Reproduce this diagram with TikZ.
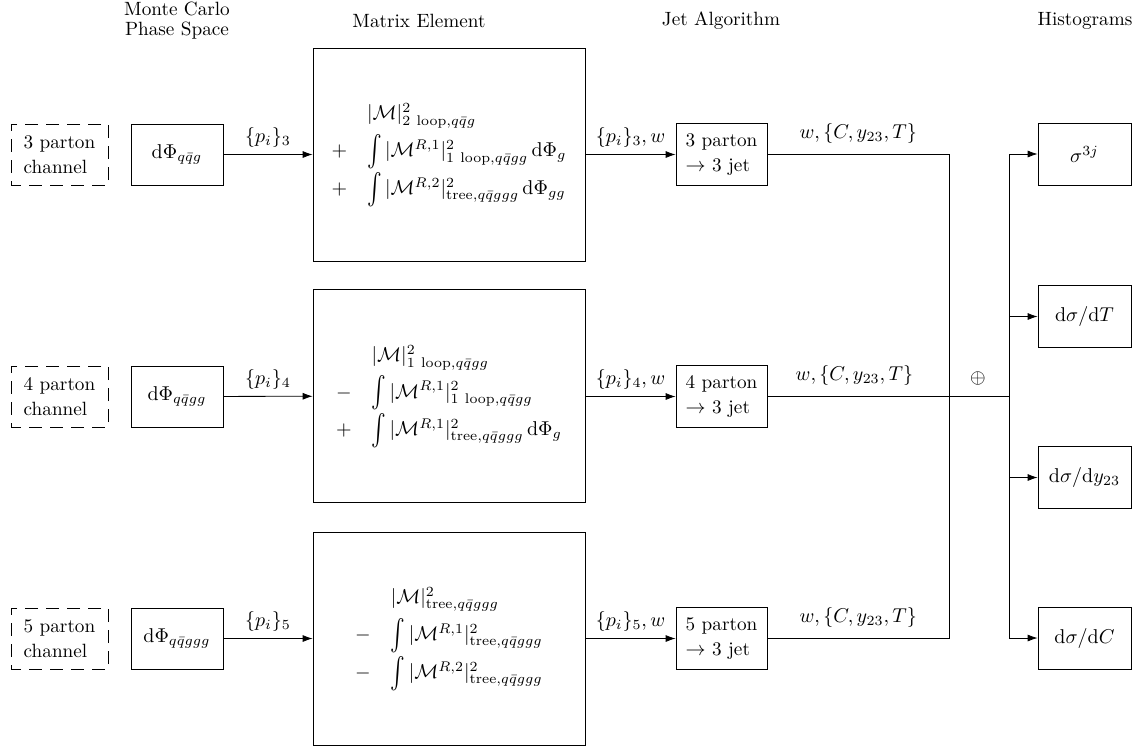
\documentclass[tikz,border=0pt]{standalone}
\usepackage{amsmath}
\usetikzlibrary{arrows.meta}
\newcommand\bigI{\mathop{\vcenter{\hbox{\scalebox{1.1}[1.55]{$\int$}}}}\nolimits}
\begin{document}
\begin{tikzpicture}[x=0.5pt,y=-0.5pt,
  every node/.style={font=\fontsize{9.6pt}{12.5pt}\selectfont},
  chan/.style={draw,dash pattern=on 6.5pt off 4pt,dash phase=1.5pt,minimum width=48.5pt,minimum height=30.5pt,align=left,inner sep=2pt},
  psbox/.style={draw,minimum width=46pt,minimum height=30.5pt,inner sep=1pt},
  mebox/.style={draw,minimum width=136pt,minimum height=106.5pt,inner sep=0pt},
  jetbox/.style={draw,minimum width=45.5pt,minimum height=31pt,align=left,inner sep=2pt},
  histbox/.style={draw,minimum width=46.5pt,minimum height=31pt,inner sep=1pt},
  title/.style={align=center},
  flow/.style={-{Latex[length=5pt,width=3.5pt]}},
  line/.style={-}]
\useasboundingbox (0,0) rectangle (1139,751);
% titles
\node[title] (t1) at (177,21) {Monte Carlo\\[-2.5pt]Phase Space};
\node[title] (t2) at (419,21) {Matrix Element};
\node[title] (t3) at (721,21) {Jet Algorithm};
\node[title] (t4) at (1085,21) {Histograms};
% channels
\node[chan] (c3) at (59.5,154.5) {3 parton\\channel};
\node[chan] (c4) at (59.5,396.5) {4 parton\\channel};
\node[chan] (c5) at (59.5,638.5) {5 parton\\channel};
% phase space
\node[psbox] (p3) at (177,154.5) {$\mathrm{d}\Phi_{q\bar q g}$};
\node[psbox] (p4) at (177,396.5) {$\mathrm{d}\Phi_{q\bar q gg}$};
\node[psbox] (p5) at (177,638.5) {$\mathrm{d}\Phi_{q\bar q ggg}$};
% matrix elements
\node[mebox] (m3) at (449,154.5) {$\begin{array}{rl}
 & |\mathcal{M}|^2_{2\ \mathrm{loop},q\bar q g}\\[3.5pt]
 + & \bigI |\mathcal{M}^{R,1}|^2_{1\ \mathrm{loop},q\bar q gg}\,\mathrm{d}\Phi_g\\[4pt]
 + & \bigI |\mathcal{M}^{R,2}|^2_{\mathrm{tree},q\bar q ggg}\,\mathrm{d}\Phi_{gg}
 \end{array}$};
\node[mebox] (m4) at (449,396) {$\begin{array}{rl}
 & |\mathcal{M}|^2_{1\ \mathrm{loop},q\bar q gg}\\[3.5pt]
 - & \bigI |\mathcal{M}^{R,1}|^2_{1\ \mathrm{loop},q\bar q gg}\\[4pt]
 + & \bigI |\mathcal{M}^{R,1}|^2_{\mathrm{tree},q\bar q ggg}\,\mathrm{d}\Phi_{g}
 \end{array}$};
\node[mebox] (m5) at (449,638.5) {$\begin{array}{rl}
 & |\mathcal{M}|^2_{\mathrm{tree},q\bar q ggg}\\[3.5pt]
 - & \bigI |\mathcal{M}^{R,1}|^2_{\mathrm{tree},q\bar q ggg}\\[4pt]
 - & \bigI |\mathcal{M}^{R,2}|^2_{\mathrm{tree},q\bar q ggg}
 \end{array}$};
% jets
\node[jetbox] (j3) at (721.5,154.5) {3 parton\\$\rightarrow$ 3 jet};
\node[jetbox] (j4) at (721.5,396.5) {4 parton\\$\rightarrow$ 3 jet};
\node[jetbox] (j5) at (721.5,638.5) {5 parton\\$\rightarrow$ 3 jet};
% histograms
\node[histbox] (h1) at (1084.5,154) {$\sigma^{3j}$};
\node[histbox] (h2) at (1084.5,316.5) {$\mathrm{d}\sigma/\mathrm{d}T$};
\node[histbox] (h3) at (1084.5,477.5) {$\mathrm{d}\sigma/\mathrm{d}y_{23}$};
\node[histbox] (h4) at (1084.5,638) {$\mathrm{d}\sigma/\mathrm{d}C$};
% coordinates
\coordinate (v3) at (949,154.5);
\coordinate (v5) at (949,638.5);
\coordinate (s4) at (1009,396.5);
\coordinate (st) at (1009,154);
\coordinate (sb) at (1009,638);
\node (plus) at (978,378) {$\oplus$};
% flows
\draw[flow] (p3) -- node[above] {$\{p_i\}_3$} (m3);
\draw[flow] (p4) -- node[above] {$\{p_i\}_4$} (m4);
\draw[flow] (p5) -- node[above] {$\{p_i\}_5$} (m5);
\draw[flow] (m3.east |- j3) -- node[above] {$\{p_i\}_3,w$} (j3);
\draw[flow] (m4.east |- j4) -- node[above] {$\{p_i\}_4,w$} (j4);
\draw[flow] (m5.east |- j5) -- node[above] {$\{p_i\}_5,w$} (j5);
\draw[line] (j3) -- node[above,yshift=2pt] {$w,\{C,y_{23},T\}$} (v3) -- (v5);
\draw[line] (j5) -- node[above,yshift=2pt] {$w,\{C,y_{23},T\}$} (v5);
\draw[line] (j4) -- node[above,pos=0.36,yshift=2pt] {$w,\{C,y_{23},T\}$} (s4);
\draw[line] (st) -- (sb);
\draw[flow] (st) -- (h1);
\draw[flow] (s4 |- h2) -- (h2);
\draw[flow] (s4 |- h3) -- (h3);
\draw[flow] (sb) -- (h4);
\end{tikzpicture}
\end{document}
